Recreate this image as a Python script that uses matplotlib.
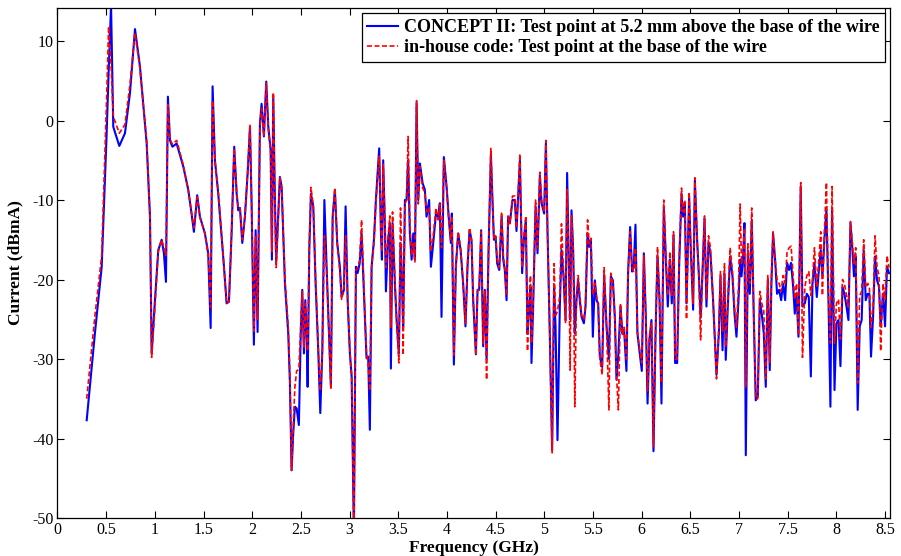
import numpy as np
import matplotlib
matplotlib.use('Agg')
import matplotlib.pyplot as plt
from matplotlib.ticker import FuncFormatter

# frequency grid (GHz) shared by both runs
freq = [
    0.30, 0.385, 0.454, 0.505, 0.525, 0.55, 0.573, 0.635, 0.693, 0.744, 0.796, 0.847, 0.916, 0.95, 0.967,
    1.001, 1.035, 1.07, 1.093, 1.114, 1.134, 1.155, 1.18, 1.224, 1.292, 1.343, 1.367, 1.401, 1.435, 1.463,
    1.514, 1.548, 1.573, 1.593, 1.617, 1.651, 1.686, 1.71, 1.737,
    1.761, 1.788, 1.815, 1.84, 1.857, 1.874, 1.898, 1.925, 1.953, 1.977, 1.994, 2.017, 2.035, 2.045, 2.055,
    2.079, 2.096, 2.12, 2.144, 2.165, 2.189, 2.202, 2.216, 2.233, 2.246, 2.267, 2.284, 2.302, 2.336, 2.37,
    2.387, 2.404, 2.421, 2.438, 2.456, 2.479, 2.5, 2.514, 2.531, 2.545, 2.559, 2.569, 2.586, 2.603, 2.627,
    2.651, 2.678, 2.699, 2.72, 2.741, 2.764, 2.788, 2.808, 2.826, 2.849, 2.873, 2.9, 2.918, 2.942, 2.959,
    2.98, 3.003, 3.021, 3.044, 3.065, 3.082, 3.103, 3.123, 3.15, 3.174, 3.191, 3.208, 3.226, 3.25, 3.27,
    3.304, 3.322, 3.332, 3.345, 3.363, 3.373, 3.396, 3.414, 3.424, 3.441, 3.465, 3.483, 3.506, 3.523, 3.54,
    3.55, 3.568, 3.585, 3.601, 3.619, 3.637, 3.654, 3.671, 3.688, 3.705, 3.722, 3.75, 3.773, 3.79, 3.817,
    3.835, 3.859, 3.887, 3.91, 3.927, 3.944, 3.968, 3.996, 4.02, 4.04, 4.05, 4.071, 4.091, 4.115, 4.14,
    4.166, 4.19, 4.211, 4.232, 4.252, 4.269, 4.297, 4.314, 4.331, 4.351, 4.372, 4.389, 4.407, 4.427, 4.451,
    4.468, 4.482, 4.499, 4.516, 4.537, 4.561, 4.578, 4.594, 4.612, 4.628, 4.646, 4.673, 4.697, 4.714, 4.749,
    4.772, 4.79, 4.81, 4.827, 4.844, 4.858, 4.868, 4.885, 4.91, 4.93, 4.954, 4.971, 4.998, 5.016, 5.033,
    5.056, 5.08, 5.1, 5.115, 5.135, 5.159, 5.176, 5.197, 5.218, 5.234, 5.252, 5.265, 5.279, 5.296, 5.313,
    5.33, 5.347, 5.364, 5.382, 5.406, 5.423, 5.444, 5.461, 5.478, 5.498, 5.519, 5.536, 5.553, 5.57, 5.594,
    5.614, 5.639, 5.663, 5.683, 5.704, 5.724, 5.741, 5.76, 5.782, 5.802, 5.819, 5.843, 5.86, 5.881, 5.901,
    5.918, 5.936, 5.956, 5.98, 6.001, 6.022, 6.042, 6.06, 6.08, 6.1, 6.121, 6.142, 6.162, 6.183,
    6.203, 6.227, 6.248, 6.268, 6.289, 6.309, 6.327, 6.343, 6.364, 6.384, 6.409, 6.425, 6.443, 6.46, 6.487,
    6.504, 6.528, 6.546, 6.569, 6.586, 6.605, 6.624, 6.645, 6.665, 6.686, 6.706, 6.733, 6.768, 6.792, 6.809,
    6.83, 6.85, 6.863, 6.884, 6.908, 6.932, 6.953, 6.973, 6.994, 7.011, 7.025, 7.041, 7.055, 7.069, 7.09,
    7.11, 7.13, 7.151, 7.171, 7.192, 7.213, 7.233, 7.254, 7.274, 7.295, 7.315, 7.332, 7.349, 7.37, 7.39,
    7.411, 7.432, 7.452, 7.473, 7.493, 7.514, 7.534, 7.555, 7.572, 7.59, 7.61, 7.633, 7.651, 7.675, 7.696,
    7.716,
    7.737, 7.754, 7.774, 7.798, 7.822, 7.839, 7.856, 7.876, 7.897, 7.918, 7.938, 7.955, 7.98, 8.0, 8.021,
    8.041, 8.062, 8.082, 8.103, 8.123, 8.144, 8.164, 8.18, 8.198, 8.218, 8.239, 8.259, 8.28, 8.301, 8.321,
    8.338, 8.355, 8.376, 8.396, 8.417, 8.437, 8.454, 8.478, 8.499, 8.519, 8.54,
]

# CONCEPT II, test point 5.2 mm above the wire base (dBmA)
cur_concept = [
    -37.7, -26.7, -18.4, -1.6, 6.0, 14.5, -0.8, -3.2, -1.6, 3.4, 11.5, 6.8, -2.9, -12.1, -29.3,
    -22.6, -16.3, -15.0, -16.7, -20.3, 3.0, -2.5, -3.3, -2.9, -5.8, -8.7, -10.8, -14.0, -9.4, -12.1,
    -14.2, -16.7, -26.1, 4.3, -5.0, -9.2, -14.6, -18.4, -23.0,
    -22.8, -14.2, -3.3, -9.2, -11.3, -11.0, -15.4, -12.1, -6.6, -0.8, -10.8, -28.2, -13.8, -20.5, -26.6,
    -0.4, 2.1, -2.0, 4.9, -0.8, -3.7, -17.5, 3.2, -10.0, -17.9, -12.1, -7.1, -8.3, -20.5, -26.8,
    -33.0, -44.0, -39.4, -36.0, -36.2, -38.3, -25.9, -21.3, -29.3, -22.6, -26.8, -33.5, -16.3, -9.2, -10.8,
    -20.5, -28.9, -36.8, -28.9, -10.0, -18.4, -26.7, -33.5, -12.1, -8.7, -15.4, -18.4, -22.2, -21.3, -10.8,
    -22.6, -29.3, -32.2, -52.0, -18.4, -19.2, -18.0, -14.2, -22.6, -29.9, -29.7, -38.9, -18.4, -15.0, -10.0,
    -3.5, -14.2, -17.5, -5.0, -13.4, -21.5, -15.0, -12.9, -31.2, -12.9, -20.5, -25.1, -29.3, -15.4, -20.9,
    -26.0, -10.0, -10.0, -5.0, -14.2, -17.5, -14.2, -17.5, 2.2, -10.0, -5.4, -7.9, -8.7, -12.1, -10.0,
    -18.4, -15.4, -11.7, -12.1, -10.4, -24.7, -4.6, -8.3, -12.5, -15.4, -11.7, -30.7, -18.4, -14.2, -16.3,
    -20.5, -25.9, -18.4, -13.8, -15.0, -22.6, -29.4, -21.3, -21.3, -13.8, -28.4, -21.3, -30.0, -16.3, -4.3,
    -10.0, -15.0, -14.6, -18.0, -18.8, -12.1, -17.5, -18.8, -22.6, -12.1, -12.9, -10.0, -10.0, -13.9, -5.0,
    -19.2, -15.0, -12.5, -26.8, -23.4, -20.9, -30.5, -23.4, -10.8, -16.7, -6.9, -10.4, -11.7, -2.9, -14.2,
    -26.8, -41.5, -20.9, -25.9, -40.2, -23.4, -16.3, -19.6, -25.1, -6.6, -18.4, -25.0, -11.3, -16.3, -26.8,
    -22.6, -20.1, -22.6, -24.7, -25.5, -23.4, -14.2, -15.9, -15.0, -27.2, -20.1, -22.6, -23.0, -29.7, -31.0,
    -19.4, -25.9, -30.0, -19.6, -20.1, -24.7, -32.6, -29.4, -23.4, -26.8, -26.3, -31.5, -19.2, -13.4, -19.0,
    -18.4, -13.1, -26.8, -29.3, -31.5, -16.7, -24.7, -35.6, -27.5, -25.1, -41.6, -26.8, -17.0, -22.6,
    -35.6, -10.8, -17.5, -23.4, -17.5, -23.0, -14.4, -30.5, -30.5, -18.4, -9.2, -12.1, -10.4, -23.0, -9.6,
    -16.3, -23.8, -7.5, -15.0, -19.2, -24.8, -19.2, -12.3, -23.4, -15.4, -16.7, -22.6, -32.0, -26.8, -19.6,
    -28.9, -19.2, -30.1, -23.4, -17.1, -19.6, -24.3, -27.2, -22.6, -17.5, -19.6, -17.1, -12.9, -42.1, -16.7,
    -21.8, -12.5, -24.7, -35.2, -34.7, -22.6, -24.3, -26.8, -33.5, -20.1, -31.4, -20.5, -14.2, -17.5, -21.8,
    -21.3, -22.6, -20.5, -22.6, -17.9, -18.8, -17.9, -20.9, -24.3, -21.8, -27.2, -8.3, -23.4, -23.0, -21.8,
    -22.2,
    -32.2, -20.5, -17.9, -22.2, -18.4, -16.3, -19.6, -15.0, -11.3, -22.6, -36.0, -11.3, -33.9, -25.5, -25.1,
    -30.9, -20.9, -21.8, -23.4, -25.1, -12.9, -16.3, -19.6, -17.1, -36.4, -25.9, -25.1, -16.3, -22.6, -21.8,
    -21.8, -29.7, -24.7, -17.1, -20.1, -20.9, -25.9, -21.8, -25.9, -18.4, -19.2,
]

# in-house code, test point at the wire base (dBmA)
cur_inhouse = [
    -35.0, -24.5, -17.0, 3.0, 11.8, 7.0, 0.5, -1.6, -0.5, 4.5, 11.0, 6.5, -2.5, -12.0, -29.8,
    -23.5, -16.5, -15.0, -16.0, -17.0, 2.0, -2.3, -3.0, -2.5, -5.6, -8.8, -10.8, -13.5, -9.6, -12.2,
    -14.2, -17.0, -23.5, 2.5, -5.0, -9.0, -14.5, -18.5, -23.0,
    -22.8, -14.0, -3.5, -9.0, -11.0, -11.0, -15.0, -12.0, -6.5, -0.5, -10.5, -26.5, -14.5, -20.0, -25.0,
    -0.8, 1.5, -2.0, 4.7, -1.0, -4.0, -16.5, 3.5, -10.5, -18.5, -12.5, -7.2, -8.5, -20.0, -26.0,
    -32.0, -44.0, -38.5, -33.5, -31.5, -31.3, -25.5, -21.5, -28.5, -23.0, -26.5, -29.0, -15.5, -8.4, -10.8,
    -20.0, -28.5, -34.0, -29.0, -14.5, -19.0, -27.0, -33.8, -12.5, -8.5, -15.5, -19.0, -22.5, -21.0, -14.5,
    -22.5, -29.0, -32.0, -52.0, -18.8, -18.6, -17.6, -12.5, -22.0, -29.5, -30.5, -34.0, -18.5, -15.5, -10.5,
    -4.5, -13.5, -16.5, -5.5, -12.5, -18.5, -14.5, -12.0, -26.0, -11.5, -20.0, -25.5, -30.5, -11.0, -21.0,
    -29.5, -10.5, -10.0, -2.0, -13.0, -17.0, -15.5, -17.8, 2.5, -10.5, -5.8, -8.5, -9.0, -11.5, -11.0,
    -16.5, -14.5, -11.0, -12.5, -10.5, -16.0, -5.0, -8.5, -12.8, -15.0, -12.0, -29.5, -18.5, -14.0, -16.0,
    -20.5, -25.5, -18.0, -13.5, -15.2, -22.0, -29.5, -21.5, -21.0, -14.0, -28.0, -21.5, -32.6, -16.5, -3.5,
    -10.5, -14.8, -14.5, -17.5, -18.5, -11.5, -17.0, -18.5, -22.0, -12.0, -13.0, -9.5, -9.5, -13.5, -4.2,
    -18.5, -14.5, -12.0, -29.0, -22.0, -19.5, -28.0, -23.0, -10.0, -16.0, -6.5, -10.0, -11.5, -2.5, -14.0,
    -27.0, -41.8, -18.0, -24.5, -24.0, -22.0, -13.0, -19.0, -25.5, -8.7, -18.0, -31.4, -12.0, -16.0, -36.0,
    -22.0, -19.5, -22.0, -24.5, -25.0, -23.0, -12.5, -15.5, -14.8, -22.0, -20.5, -22.0, -23.5, -30.0, -32.0,
    -18.5, -26.0, -36.4, -19.2, -20.5, -25.0, -32.0, -36.4, -23.0, -27.0, -26.0, -30.0, -19.0, -14.0, -18.5,
    -19.0, -16.0, -26.5, -29.0, -30.5, -17.0, -24.5, -34.0, -27.0, -25.5, -41.0, -27.0, -15.9, -22.5,
    -33.0, -10.0, -17.0, -22.0, -16.5, -22.0, -14.0, -30.0, -30.0, -17.5, -8.5, -11.5, -10.0, -25.0, -9.0,
    -16.0, -23.0, -7.2, -15.0, -19.5, -27.6, -19.0, -12.0, -22.5, -14.5, -16.0, -22.5, -32.5, -26.0, -19.0,
    -26.5, -18.0, -28.5, -22.5, -16.0, -19.0, -23.5, -26.0, -21.0, -10.5, -18.0, -16.5, -13.5, -33.5, -15.5,
    -20.5, -11.0, -24.5, -35.0, -35.0, -21.5, -23.0, -24.0, -32.5, -19.5, -30.5, -19.5, -14.0, -17.5, -20.0,
    -20.5, -21.5, -19.5, -20.5, -16.5, -16.0, -15.8, -19.5, -22.5, -20.5, -27.0, -7.8, -29.8, -21.0, -19.5,
    -19.0,
    -22.0, -20.0, -16.0, -21.0, -17.0, -14.0, -22.0, -14.0, -7.8, -22.0, -28.0, -8.3, -28.0, -23.0, -22.5,
    -27.5, -20.0, -20.5, -22.0, -23.5, -12.7, -15.5, -18.0, -16.0, -33.0, -22.0, -21.5, -15.0, -21.0, -20.5,
    -21.0, -26.0, -23.5, -14.5, -18.5, -19.5, -29.0, -20.5, -22.5, -17.0, -18.5,
]

label_concept = 'CONCEPT II: Test point at 5.2 mm above the base of the wire'
label_inhouse = 'in-house code: Test point at the base of the wire'

plt.rcParams['font.family'] = ['Liberation Serif', 'DejaVu Serif']
plt.rcParams['axes.unicode_minus'] = False

fig = plt.figure(figsize=(9.01, 5.56), dpi=100)
ax = fig.add_axes([0.0638, 0.0683, 0.924, 0.9173])

ax.plot(freq, cur_concept, color='#0000ff', lw=1.5, label=label_concept)
ax.plot(freq, cur_inhouse, color='#ff0000', lw=1.2, ls=(0, (3, 1.5)), label=label_inhouse)

ax.set_xlim(0, 8.55)
ax.set_ylim(-50, 14.15)
ax.set_xticks(np.arange(0, 8.51, 0.5))
ax.set_yticks(np.arange(-50, 11, 10))
ax.xaxis.set_major_formatter(FuncFormatter(lambda v, p: f'{v:g}'))
ax.tick_params(direction='in', top=True, right=True, length=5, width=0.8,
               labelsize=11.5, pad=3)
for s in ax.spines.values():
    s.set_linewidth(0.9)

ax.set_xlabel('Frequency (GHz)', fontsize=12.5, fontweight='bold', labelpad=1)
ax.set_ylabel('Current (dBmA)', fontsize=12.5, fontweight='bold', labelpad=6)

leg = ax.legend(loc='upper right', prop={'weight': 'bold', 'size': 13},
                frameon=True, fancybox=False, edgecolor='black', framealpha=1,
                handlelength=1.7, handletextpad=0.3, borderpad=0.3,
                labelspacing=0.2, borderaxespad=0.3)
leg.get_frame().set_linewidth(0.9)

fig.savefig('out.png', dpi=100)
